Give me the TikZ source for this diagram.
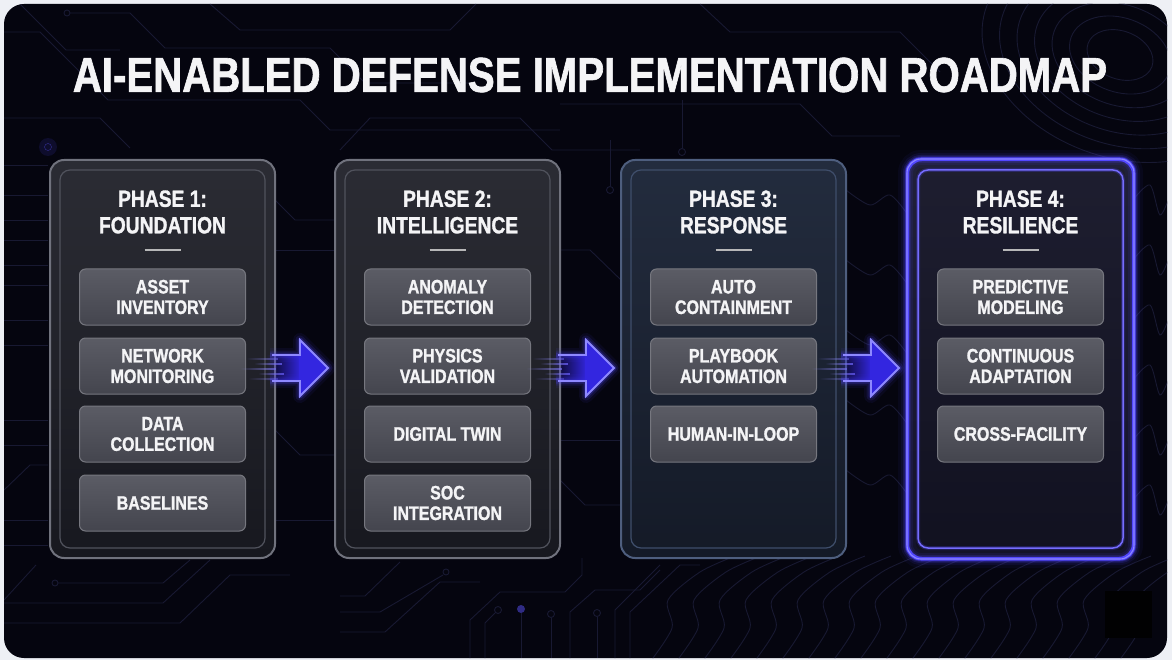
\documentclass[tikz,border=0pt]{standalone}
\usepackage{fontspec}
\newfontfamily\cnd{Liberation Sans}[FakeStretch=0.82, BoldFeatures={FakeBold=1.3}]
\usetikzlibrary{calc,fadings}

\definecolor{pagebg}{HTML}{EEF0F5}
\definecolor{cardbg}{HTML}{05050F}
\definecolor{trace}{HTML}{181932}
\definecolor{panelTop}{HTML}{2B2C34}
\definecolor{panelBot}{HTML}{17181F}
\definecolor{panelEdge}{HTML}{70727D}
\definecolor{panelInner}{HTML}{50525C}
\definecolor{itemTop}{HTML}{5B5C65}
\definecolor{itemBot}{HTML}{44454E}
\definecolor{itemEdge}{HTML}{76777F}
\definecolor{respTop}{HTML}{232C3E}
\definecolor{respBot}{HTML}{141A27}
\definecolor{respEdge}{HTML}{4E5E7E}
\definecolor{respInner}{HTML}{3F4E6B}
\definecolor{resilTop}{HTML}{1E1E30}
\definecolor{resilBot}{HTML}{111120}
\definecolor{neon}{HTML}{5247FF}
\definecolor{neonCore}{HTML}{8E88FF}
\definecolor{arrowFill}{HTML}{3326E0}
\definecolor{txt}{HTML}{F4F4F6}

\begin{document}
\begin{tikzpicture}[x=1pt,y=-1pt,
  trace/.style={draw=trace, line width=0.9pt},
  panel/.style={rounded corners=14pt, top color=panelTop, bottom color=panelBot,
    draw=panelEdge, line width=2pt, minimum width=225pt, minimum height=398pt, inner sep=0pt},
  resp/.style={top color=respTop, bottom color=respBot, draw=respEdge},
  resil/.style={top color=resilTop, bottom color=resilBot, draw=neon},
  phasetitle/.style={text=txt, align=center, inner sep=0pt,
    font=\cnd\bfseries\fontsize{23.5}{26.5}\selectfont},
  divider/.style={draw=txt!75!black, line width=1.4pt},
  itembox/.style={rounded corners=6pt, top color=itemTop, bottom color=itemBot,
    draw=itemEdge, line width=1pt, minimum width=166pt, minimum height=56pt,
    align=center, text=txt, inner sep=0pt,
    font=\cnd\bfseries\fontsize{19.5}{20.5}\selectfont},
  flowarrow/.pic={
    % light streaks trailing behind the arrow
    \foreach \dy/\xa/\xb/\o in {-9/-82/-50/0.55, -4/-74/-46/0.8, 1/-88/-52/0.65, 6/-70/-44/0.8, 11/-80/-50/0.45}
      \fill[neonCore, opacity=\o, path fading=west] (\xa,\dy-0.9) rectangle (\xb,\dy+0.9);
    % soft halo
    \foreach \w/\o in {14/0.07, 9/0.13, 5/0.25}
      \draw[neon, line width=\w pt, opacity=\o, line join=round]
        (-58,-13) -- (-28,-13) -- (-28,-28) -- (0,0) -- (-28,28) -- (-28,13) -- (-58,13);
    % body
    \fill[arrowFill, path fading=west] (-62,-13) rectangle (-27,13);
    \fill[arrowFill] (-28,-28) -- (0,0) -- (-28,28) -- cycle;
    \fill[arrowFill] (-29,-13) rectangle (-27,13);
    \draw[neonCore, line width=1.8pt, line join=miter]
      (-56,-13) -- (-28,-13) -- (-28,-28) -- (0,0) -- (-28,28) -- (-28,13) -- (-56,13);
  }]

\useasboundingbox (0,0) rectangle (1172,660);
\fill[pagebg] (0,0) rectangle (1172,660);
\fill[cardbg, rounded corners=20pt] (4,4) rectangle (1167,658);

% ---- circuit traces and contour texture ----
\begin{scope}
\clip[rounded corners=20pt] (4,4) rectangle (1167,658);
\draw[trace] (70,13) -- (130,13) -- (165,48) -- (330,48) -- (365,83) -- (470,83);
\draw[trace] (67,13) circle (3);
\draw[trace] (4,32) -- (40,32) -- (108,100) -- (300,100) -- (330,130) -- (560,130);
\draw[trace] (4,118) -- (100,118) -- (130,148);
\draw[trace] (20,4) -- (66,50) -- (120,50);
\draw[trace] (210,4) -- (240,30) -- (450,30) -- (476,4);
\draw[trace] (340,150) -- (370,118) -- (520,118) -- (552,150) -- (640,150);
\draw[trace] (700,4) -- (730,32) -- (900,32) -- (940,72);
\draw[trace] (560,104) -- (800,104) -- (832,136) -- (900,136);
\draw[trace] (610,140) -- (610,186);
\draw[trace] (610,190) circle (3.5);
\draw[trace] (682,100) -- (682,148);
\draw[trace] (682,152) circle (3.5);
\fill[neon, opacity=0.12] (48,147) circle (9);
\draw[trace!50!neon] (48,147) circle (3.5);
\foreach \y in {165,195,220,240,265,285,320,345,420,445,520,545}
  \draw[trace] (4,\y) -- (48,\y);
\draw[trace] (4,490) -- (30,465) -- (48,465);
% gaps between columns
\draw[trace] (275,200) -- (295,220) -- (335,220);
\draw[trace] (275,250) -- (335,250);
\draw[trace] (275,430) -- (300,455) -- (335,455);
\draw[trace] (275,520) -- (335,520);
\draw[trace] (560,250) -- (590,250) -- (621,280);
\draw[trace] (560,440) -- (621,440);
\draw[trace] (560,480) -- (585,505) -- (621,505);
\foreach \i in {0,...,4}
  \draw[trace] plot[smooth] coordinates {(846,{190+70*\i}) (870,{205+70*\i}) (890,{195+70*\i}) (908,{215+70*\i})};
% lower band
\draw[trace] (58,583) -- (163,583) -- (190,560);
\draw[trace] (55,583) circle (3);
\draw[trace] (4,603) -- (163,603) -- (210,560);
\draw[trace] (4,623) -- (180,623) -- (230,575) -- (290,575);
\draw[trace] (4,600) -- (36,565);
\draw[trace] (340,596) -- (365,596) -- (400,562);
\draw[trace] (340,612) -- (380,612) -- (443,575);
\draw[trace] (446,572) circle (3);
\draw[trace] (340,632) -- (385,632) -- (440,582) -- (480,582);
\draw[trace] (470,658) -- (470,620) -- (500,592) -- (565,592) -- (582,575) -- (582,558);
\draw[trace] (498,610) circle (3.5);
\draw[trace] (495,613) -- (485,623) -- (485,658);
\fill[trace!60!neon] (521,609) circle (4);
\draw[trace] (521,613) -- (521,658);
\draw[trace] (551,614) circle (3.5);
\draw[trace] (551,618) -- (551,658);
\draw[trace] (597,613) circle (3.5);
\draw[trace] (597,617) -- (597,658);
\draw[trace] (570,658) -- (570,612) -- (595,590) -- (640,590) -- (660,570);
\draw[trace] (615,658) -- (615,610) -- (660,565);
\draw[trace] (630,658) -- (630,612) -- (680,565) -- (700,565);
\foreach \i in {0,...,18}
  \draw[trace] plot[smooth] coordinates {({650+26*\i},662) ({672+26*\i},628) ({668+26*\i},600) ({700+26*\i},572) ({735+26*\i},556)};
% contour rings at the upper right
\foreach \r in {1,...,7}
  \draw[trace, rotate around={-20:(1120,55)}] (1120,55) ellipse [x radius={16+18*\r}, y radius={11+13*\r}];
\foreach \i in {0,...,5}
  \draw[trace] plot[smooth] coordinates {(1133,{200+60*\i}) (1150,{185+60*\i}) (1160,{215+60*\i}) (1170,{195+60*\i})};
\end{scope}
\fill[black!85!cardbg] (1105,591) rectangle (1152,638);

% ---- title ----
\node[text=txt, inner sep=0pt, font=\cnd\bfseries\fontsize{49}{52}\selectfont] (title) at (590,75)
  {AI-ENABLED DEFENSE IMPLEMENTATION ROADMAP};

% ---- phase columns ----
\node[panel] (p1) at (162.5,359) {};
\node[panel] (p2) at (447.5,359) {};
\node[panel, resp] (p3) at (733.5,359) {};
\node[panel, resil] (p4) at (1020.5,359) {};

\draw[panelInner, line width=1.2pt, rounded corners=10pt] ($(p1.north west)+(11,11)$) rectangle ($(p1.south east)+(-11,-11)$);
\draw[panelInner, line width=1.2pt, rounded corners=10pt] ($(p2.north west)+(11,11)$) rectangle ($(p2.south east)+(-11,-11)$);
\draw[respInner, line width=1.2pt, rounded corners=10pt] ($(p3.north west)+(11,11)$) rectangle ($(p3.south east)+(-11,-11)$);

% neon frame of the final phase
\foreach \w/\o in {18/0.05, 12/0.09, 8/0.16, 5/0.3}
  \draw[neon, line width=\w pt, opacity=\o, rounded corners=14pt] (p4.north west) rectangle (p4.south east);
\draw[neon, line width=3pt, rounded corners=14pt] (p4.north west) rectangle (p4.south east);
\draw[neonCore, line width=1.1pt, rounded corners=14pt] (p4.north west) rectangle (p4.south east);
\draw[neon, line width=4pt, opacity=0.25, rounded corners=10pt] ($(p4.north west)+(11,11)$) rectangle ($(p4.south east)+(-11,-11)$);
\draw[neon!80!white, line width=1.5pt, rounded corners=10pt] ($(p4.north west)+(11,11)$) rectangle ($(p4.south east)+(-11,-11)$);

% headings and dividers
\node[phasetitle] (t1) at ($(p1.north)+(0,53)$) {PHASE 1:\\FOUNDATION};
\node[phasetitle] (t2) at ($(p2.north)+(0,53)$) {PHASE 2:\\INTELLIGENCE};
\node[phasetitle] (t3) at ($(p3.north)+(0,53)$) {PHASE 3:\\RESPONSE};
\node[phasetitle] (t4) at ($(p4.north)+(0,53)$) {PHASE 4:\\RESILIENCE};
\foreach \p in {p1,p2,p3,p4}
  \draw[divider] ($(\p.north)+(-18,91)$) -- ($(\p.north)+(18,91)$);

% activity tiles
\node[itembox] (a11) at ($(p1.north)+(0,138)$) {ASSET\\INVENTORY};
\node[itembox] (a12) at ($(p1.north)+(0,207)$) {NETWORK\\MONITORING};
\node[itembox] (a13) at ($(p1.north)+(0,275)$) {DATA\\COLLECTION};
\node[itembox] (a14) at ($(p1.north)+(0,344)$) {BASELINES};

\node[itembox] (a21) at ($(p2.north)+(0,138)$) {ANOMALY\\DETECTION};
\node[itembox] (a22) at ($(p2.north)+(0,207)$) {PHYSICS\\VALIDATION};
\node[itembox] (a23) at ($(p2.north)+(0,275)$) {DIGITAL TWIN};
\node[itembox] (a24) at ($(p2.north)+(0,344)$) {SOC\\INTEGRATION};

\node[itembox] (a31) at ($(p3.north)+(0,138)$) {AUTO\\CONTAINMENT};
\node[itembox] (a32) at ($(p3.north)+(0,207)$) {PLAYBOOK\\AUTOMATION};
\node[itembox] (a33) at ($(p3.north)+(0,275)$) {HUMAN-IN-LOOP};

\node[itembox] (a41) at ($(p4.north)+(0,138)$) {PREDICTIVE\\MODELING};
\node[itembox] (a42) at ($(p4.north)+(0,207)$) {CONTINUOUS\\ADAPTATION};
\node[itembox] (a43) at ($(p4.north)+(0,275)$) {CROSS-FACILITY};

% progression arrows between phases
\pic at ($(p2.west)+(-6,9)$) {flowarrow};
\pic at ($(p3.west)+(-6,9)$) {flowarrow};
\pic at ($(p4.west)+(-8,9)$) {flowarrow};
\end{tikzpicture}
\end{document}
